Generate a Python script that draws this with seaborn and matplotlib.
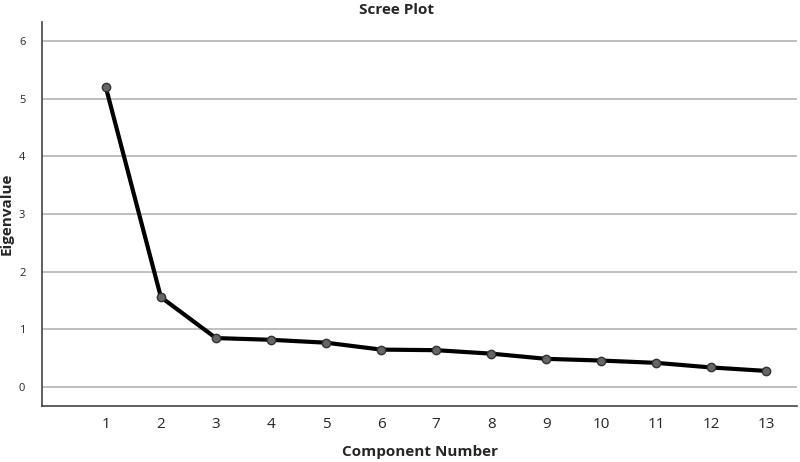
import numpy as np
import pandas as pd
import seaborn as sns
import matplotlib.pyplot as plt

sns.set_theme(style="white")
plt.rcParams['font.family'] = ['Open Sans', 'DejaVu Sans']

components = list(range(1, 14))
eigenvalues = [5.20, 1.56, 0.85, 0.82, 0.77, 0.65, 0.64, 0.58, 0.49, 0.46, 0.42, 0.34, 0.28]

df = pd.DataFrame({"Component Number": components, "Eigenvalue": eigenvalues})

fig = plt.figure(figsize=(8, 4.62), dpi=100)
ax = fig.add_axes([0.0525, 0.121, 0.944, 0.831])

for y in range(0, 7):
    ax.axhline(y, color="#b4b4b4", lw=1.2, zorder=0)

sns.lineplot(data=df, x="Component Number", y="Eigenvalue", ax=ax,
             color="black", lw=3, marker="o", markersize=6,
             markerfacecolor="#666666", markeredgecolor="#333333", markeredgewidth=1)

ax.set_xlim(-0.16, 13.56)
ax.set_ylim(-0.33, 6.33)
ax.set_xticks(components)
ax.set_yticks(range(0, 7))
ax.tick_params(axis="x", labelsize=11, length=0, pad=8)
ax.tick_params(axis="y", labelsize=8, length=0, pad=12)
sns.despine(ax=ax)
for s in ["left", "bottom"]:
    ax.spines[s].set_color("#444444")
    ax.spines[s].set_linewidth(1.2)

ax.set_xlabel("Component Number", fontsize=11, fontweight="bold", labelpad=9)
ax.set_ylabel("Eigenvalue", fontsize=11, fontweight="bold", labelpad=4)
ax.set_title("Scree Plot", fontsize=11, fontweight="bold", pad=6, x=0.469)

fig.savefig("out.png", dpi=100)
